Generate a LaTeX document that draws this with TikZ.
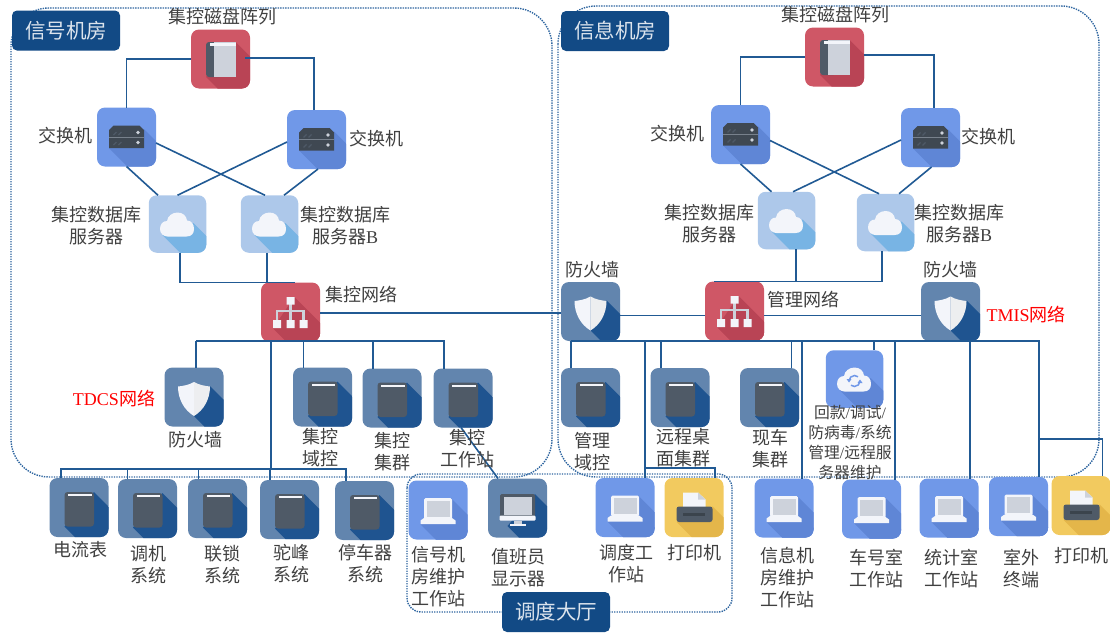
\documentclass[tikz,border=0pt]{standalone}
\usepackage{fontspec}
\setmainfont{Liberation Serif}
\newfontfamily\cjk{Noto Sans CJK SC}
\usetikzlibrary{calc}
\definecolor{cline}{HTML}{215A94}
\definecolor{cdot}{HTML}{2F66A0}
\definecolor{ctitle}{HTML}{124A85}
\definecolor{csteel}{HTML}{6285AE}
\definecolor{csteelS}{HTML}{1F5490}
\definecolor{cblue}{HTML}{7098E8}
\definecolor{cblueS}{HTML}{5F86D6}
\definecolor{cred}{HTML}{CF5766}
\definecolor{credS}{HTML}{B94455}
\definecolor{csky}{HTML}{ADC8EA}
\definecolor{cskyS}{HTML}{78B4E4}
\definecolor{cyel}{HTML}{F2CA5F}
\definecolor{cyelS}{HTML}{E4B64A}
\definecolor{cdark}{HTML}{4F5A67}
\definecolor{cpage}{HTML}{CDD2DB}
\definecolor{cwhite}{HTML}{F3F5FA}
\definecolor{ctext}{HTML}{404040}
\newcommand\lat[1]{{\rmfamily #1}}
\tikzset{
  tilebox/.style={rounded corners=8,inner sep=0,outer sep=0,draw=none},
  conn/.style={draw=cline,line width=1.6pt},
  group/.style={draw=cdot,line width=1.4pt,dash pattern=on 1.4pt off 1.1pt},
  titlebox/.style={fill=ctitle,rounded corners=5,inner sep=0,minimum width=108,minimum height=40,
    text=white!85!ctitle,font=\cjk\fontsize{20.5}{24}\selectfont},
  lbl/.style={inner sep=0,align=center,text=ctext,font=\cjk\fontsize{18}{22}\selectfont},
  smalllbl/.style={inner sep=0,align=center,text=ctext,font=\cjk\fontsize{15.8}{20}\selectfont},
  redlbl/.style={inner sep=0,text=red,font=\cjk\fontsize{18}{22}\selectfont},
}
\newcommand\longshadow[4]{\fill[tshadow] (#1,#2) -- ({#1+70},{#2+70}) -- ({#3+70},{#4+70}) -- (#3,#4) -- cycle;}
\newcommand\gServerS{\longshadow{17.5}{-8}{-17.5}{11}}
\newcommand\gServer{%
  \fill[cdark!80!black] (-17.5,-7) -- (-13,-11.5) -- (13,-11.5) -- (17.5,-7) -- (17.5,11) -- (-17.5,11) -- cycle;
  \draw[cwhite!25!cdark,line width=.7pt] (-17.5,0) -- (17.5,0);
  \fill[cpage] (11.5,-4.5) circle (1.8) (11.5,5.5) circle (1.8);
  \draw[cdark,line width=1.2pt] (-13,-2) -- (-10,-5) (-8,-2) -- (-5,-5) (-13,8) -- (-10,5) (-8,8) -- (-5,5);}
\newcommand\gBookS{\longshadow{15}{-17}{-14.5}{18}}
\newcommand\gBook{%
  \fill[cdark,rounded corners=3] (-14.5,-17) rectangle (2,18);
  \fill[cpage] (-7,-17) rectangle (15,18);
  \fill[cwhite] (-11,-16) rectangle (15,-13.5);}
\newcommand\gDarkS{\longshadow{15}{-15.5}{-14.5}{19}}
\newcommand\gDark{%
  \fill[cdark,rounded corners=3] (-14.5,-15.5) -- (15,-15.5) -- (15,19) -- (-14.5,19) -- cycle;
  \fill[cwhite] (-11,-13.5) rectangle (12.5,-11.2);}
\newcommand\gShieldS{\longshadow{16}{-11}{0}{19}}
\newcommand\gShield{%
  \fill[cwhite] (0,-15) .. controls (-5,-12) and (-11,-11) .. (-16,-10.5) .. controls (-16,2) and (-10,13) .. (0,19) -- cycle;
  \fill[white!90!cdark] (0,-15) .. controls (5,-12) and (11,-11) .. (16,-10.5) .. controls (16,2) and (10,13) .. (0,19) -- cycle;}
\newcommand\gNetS{\longshadow{4}{-15}{-17.5}{16}\longshadow{17}{8}{-17.5}{16}}
\newcommand\gNet{%
  \draw[cpage,line width=2.2pt] (0,-8) -- (0,8) (-13.5,8) -- (-13.5,-1) -- (13,-1) -- (13,8);
  \fill[cwhite] (-4,-15) rectangle (4,-7.5) (-17.5,8) rectangle (-9.5,16) (-4,8) rectangle (4,16) (9,8) rectangle (17,16);}
\newcommand\gCloudPath{%
  (-17.5,5) .. controls (-17.5,0) and (-14.5,-3) .. (-10.5,-3) .. controls (-10,-8) and (-5,-11.5) .. (0,-11.5)
  .. controls (5.5,-11.5) and (9,-8) .. (9.5,-3.5) .. controls (14,-3.5) and (16.5,0.5) .. (16.5,5)
  .. controls (16.5,9.5) and (14,12.5) .. (9,12.5) -- (-10,12.5) .. controls (-14,12.5) and (-17.5,9.5) .. (-17.5,5) -- cycle}
\newcommand\gCloudS{\longshadow{16}{-1}{-15}{11}}
\newcommand\gCloud{\fill[cwhite] \gCloudPath;}
\newcommand\gSync{\fill[cwhite] \gCloudPath;
  \draw[cblue,line width=1.5pt] (-5.5,2) arc[start angle=180,end angle=310,radius=5.5];
  \draw[cblue,line width=1.5pt] (5.5,2) arc[start angle=0,end angle=130,radius=5.5];
  \fill[cblue] (5.5,0.5) -- (8,4) -- (3,4) -- cycle (-5.5,3.5) -- (-8,0) -- (-3,0) -- cycle;}
\newcommand\gLapS{\longshadow{13}{-12}{-17.5}{14}\longshadow{17.5}{8}{-17.5}{14}}
\newcommand\gLap{%
  \fill[cwhite,rounded corners=1.5] (-14,-12) rectangle (14,9);
  \fill[cpage] (-11.5,-9.5) rectangle (11.5,6.5);
  \fill[cwhite] (-14,8) -- (14,8) -- (17.5,10.5) -- (17.5,14) -- (-17.5,14) -- (-17.5,10.5) -- cycle;}
\newcommand\gMonS{\longshadow{17.5}{-14}{-10}{18}}
\newcommand\gMon{%
  \fill[cdark,rounded corners=1.5] (-17.5,-14) rectangle (17.5,9);
  \fill[cpage] (-14,-11) rectangle (14,7);
  \fill[cwhite,rounded corners=1] (-18,7.5) rectangle (18,12.5);
  \fill[cpage] (-4,12.5) rectangle (4,16);
  \fill[cwhite] (-8,15.5) rectangle (8,18);}
\newcommand\gPrtS{\longshadow{18.5}{-1}{-17.5}{14.5}}
\newcommand\gPrt{%
  \fill[cwhite] (-11,-15) -- (4,-15) -- (11.5,-8) -- (11.5,2) -- (-11,2) -- cycle;
  \fill[cpage] (4,-15) -- (11.5,-8) -- (4,-8) -- cycle;
  \fill[cdark,rounded corners=2.5] (-17.5,-1) rectangle (18.5,14.5);
  \fill[cdark!75!black] (-11,5) rectangle (11,8);}
\newcommand\tile[8][59]{%
  \begin{scope}[shift={(#3,#4)}]
    \colorlet{tshadow}{#6}
    \node[tilebox,fill=#5,minimum width=#1,minimum height=#1] (#2) at (0,0) {};
    \begin{scope}
      \clip[rounded corners=8] ({-#1/2},{-#1/2}) rectangle ({#1/2},{#1/2});
      #7
    \end{scope}
    #8
  \end{scope}}
\begin{document}
\begin{tikzpicture}[x=1pt,y=-1pt]
\useasboundingbox (0,0) rectangle (1110,632);
% groups
\draw[group,rounded corners=38] (11,8) rectangle (552,477);
\draw[group,rounded corners=38] (558,6) rectangle (1099,477);
\draw[group,rounded corners=14] (407,474) rectangle (732,612);
\node[titlebox] (tSignal) at (66,30.5) {信号机房};
\node[titlebox] (tInfo) at (615,31) {信息机房};
\node[titlebox] (tHall) at (556,612) {调度大厅};
% tiles, left room
\tile{disk1}{220.5}{59}{cred}{credS}{\gBookS}{\gBook}
\tile{sw1}{126.5}{137}{cblue}{cblueS}{\gServerS}{\gServer}
\tile{sw2}{316.5}{139.5}{cblue}{cblueS}{\gServerS}{\gServer}
\tile[57.5]{db1}{177.5}{224}{csky}{cskyS}{\gCloudS}{\gCloud}
\tile[57.5]{db2}{269.5}{224}{csky}{cskyS}{\gCloudS}{\gCloud}
\tile{net1}{290.5}{312}{cred}{credS}{\gNetS}{\gNet}
\tile{fw1}{194}{397}{csteel}{csteelS}{\gShieldS}{\gShield}
\tile{ga}{322.5}{397}{csteel}{csteelS}{\gDarkS}{\gDark}
\tile{gb}{392}{398}{csteel}{csteelS}{\gDarkS}{\gDark}
\tile{gc}{463}{398}{csteel}{csteelS}{\gDarkS}{\gDark}
\tile{s1}{79}{507.5}{csteel}{csteelS}{\gDarkS}{\gDark}
\tile{s2}{147.5}{508.5}{csteel}{csteelS}{\gDarkS}{\gDark}
\tile{s3}{217.5}{508.5}{csteel}{csteelS}{\gDarkS}{\gDark}
\tile{s4}{289.5}{509.5}{csteel}{csteelS}{\gDarkS}{\gDark}
\tile{s5}{364.5}{510.5}{csteel}{csteelS}{\gDarkS}{\gDark}
\tile{h1}{438}{510}{cblue}{cblueS}{\gLapS}{\gLap}
\tile{h2}{517.5}{508}{csteel}{csteelS}{\gMonS}{\gMon}
% tiles, right room
\tile{disk2}{834.5}{57}{cred}{credS}{\gBookS}{\gBook}
\tile{sw3}{740.5}{134.5}{cblue}{cblueS}{\gServerS}{\gServer}
\tile{sw4}{930.5}{137.5}{cblue}{cblueS}{\gServerS}{\gServer}
\tile[57.5]{db3}{786.5}{220.5}{csky}{cskyS}{\gCloudS}{\gCloud}
\tile[57.5]{db4}{885.5}{222.5}{csky}{cskyS}{\gCloudS}{\gCloud}
\tile{net2}{734.5}{311}{cred}{credS}{\gNetS}{\gNet}
\tile{fw2}{590.5}{311.5}{csteel}{csteelS}{\gShieldS}{\gShield}
\tile{fw3}{950.5}{311.5}{csteel}{csteelS}{\gShieldS}{\gShield}
\tile{mg}{590.5}{397.5}{csteel}{csteelS}{\gDarkS}{\gDark}
\tile{rem}{680}{397.5}{csteel}{csteelS}{\gDarkS}{\gDark}
\tile{car}{769.5}{397.5}{csteel}{csteelS}{\gDarkS}{\gDark}
\tile[57.5]{sync}{854.5}{379}{cblue}{cblueS}{\gCloudS}{\gSync}
\tile{d1}{625}{507.5}{cblue}{cblueS}{\gLapS}{\gLap}
\tile{p1}{694}{507.5}{cyel}{cyelS}{\gPrtS}{\gPrt}
\tile{w1}{784}{508}{cblue}{cblueS}{\gLapS}{\gLap}
\tile{w2}{871.5}{509}{cblue}{cblueS}{\gLapS}{\gLap}
\tile{w3}{949}{508}{cblue}{cblueS}{\gLapS}{\gLap}
\tile{w4}{1018.5}{506.5}{cblue}{cblueS}{\gLapS}{\gLap}
\tile{p2}{1081}{505.5}{cyel}{cyelS}{\gPrtS}{\gPrt}
% bus points
\coordinate (busA) at (196,341);
\coordinate (busB) at (444,341);
\coordinate (busC) at (61,469);
\coordinate (busD) at (346,469);
\coordinate (busE) at (571,341);
\coordinate (busF) at (1039,341);
\coordinate (brA) at (645,468);
\coordinate (brB) at (1039,439);
% connectors, left room
\draw[conn] (sw1.north) |- (disk1.west);
\draw[conn] ($(sw2.north)+(-2.5,0)$) |- ($(disk1.east)+(-5,-1)$);
\draw[conn] (sw1.south) -- ($(db1.north)+(-19.5,0)$);
\draw[conn] ($(sw1.east)+(0,6)$) -- ($(db2.north)+(-4.5,0)$);
\draw[conn] ($(sw2.west)+(0,2.5)$) -- (db1.north);
\draw[conn] ($(sw2.south)+(1.5,0)$) -- ($(db2.north)+(14.5,0)$);
\draw[conn] ($(db1.south)+(2.5,0)$) |- ($(net1.north)+(4.5,0)$);
\draw[conn] ($(db2.south)+(-2.5,0)$) |- (net1.north);
\draw[conn] (busA) -- (busB);
\draw[conn] ($(fw1.north)+(2,0)$) |- (busA);
\draw[conn] ($(ga.north)+(-19,0)$) |- (busA);
\draw[conn] ($(gb.north)+(-19,0)$) |- (busA);
\draw[conn] ($(gc.north)+(-19,0)$) |- (busA);
\draw[conn] ($(net1.south)+(-19.5,0)$) -- ++(0,127);
\draw[conn] ($(s1.north)+(-18,0)$) |- (busD);
\draw[conn] ($(s2.north)+(-20,0)$) |- (busC);
\draw[conn] ($(s3.north)+(-19,0)$) |- (busC);
\draw[conn] ($(s4.north)+(-19.5,0)$) |- (busC);
\draw[conn] ($(s5.north)+(-18.5,0)$) |- (busC);
\draw[conn] ($(gc.south)+(-2,0)$) -- ($(h2.north)+(-19.5,0)$);
\draw[conn] ($(net1.east)+(0,1)$) -- ($(fw2.west)+(0,1.5)$);
% connectors, right room
\draw[conn] (sw3.north) |- (disk2.west);
\draw[conn] ($(sw4.north)+(3.5,0)$) |- ($(disk2.east)+(0,-2)$);
\draw[conn] (sw3.south) -- ($(db3.north)+(-15,0)$);
\draw[conn] ($(sw3.east)+(0,6)$) -- ($(db4.north)+(-6.5,0)$);
\draw[conn] ($(sw4.west)+(0,2.5)$) -- ($(db3.north)+(6.5,0)$);
\draw[conn] ($(sw4.south)+(1,0)$) -- ($(db4.north)+(13.5,0)$);
\draw[conn] ($(db3.south)+(9.2,0)$) |- ($(net2.north)+(-20.5,0)$);
\draw[conn] ($(db4.south)+(-3.8,0)$) |- ($(net2.north)+(-20.5,0)$);
\draw[conn] ($(fw2.east)+(0,4)$) -- ($(net2.west)+(0,4.5)$);
\draw[conn] ($(net2.east)+(0,4.5)$) -- ($(fw3.west)+(0,4)$);
\draw[conn] (busE) -- (busF);
\draw[conn] ($(mg.north)+(-19.5,0)$) |- (busE);
\draw[conn] ($(rem.north)+(-19,0)$) |- (busE);
\draw[conn] ($(car.north)+(22,0)$) |- (busE);
\draw[conn] ($(sync.north)+(19.5,0)$) |- (busE);
\draw[conn] ($(d1.north)+(20,0)$) |- (busE);
\draw[conn] ($(w1.north)+(18,0)$) |- (busE);
\draw[conn] ($(w2.north)+(23.5,0)$) |- (busE);
\draw[conn] ($(w3.north)+(21,0)$) |- (busE);
\draw[conn] ($(w4.north)+(20.5,0)$) |- (busE);
\draw[conn] ($(p1.north)+(21,0)$) |- (brA);
\draw[conn] ($(p2.north)+(21.5,0)$) |- (brB);
% labels, left room
\node[lbl] (l1) at (222,17) {集控磁盘阵列};
\node[lbl] (l2) at (65,136) {交换机};
\node[lbl] (l3) at (376,139) {交换机};
\node[lbl] (l4) at (96,226) {集控数据库\\服务器};
\node[lbl] (l5) at (345,226) {集控数据库\\服务器\lat{B}};
\node[lbl] (l6) at (361,295) {集控网络};
\node[redlbl] (l7) at (114,399) {\lat{TDCS}网络};
\node[lbl] (l8) at (195,440) {防火墙};
\node[lbl] (l9) at (320,448) {集控\\域控};
\node[lbl] (l10) at (392,452) {集控\\集群};
\node[lbl] (l11) at (467,449) {集控\\工作站};
\node[lbl] (l12) at (80,550) {电流表};
\node[lbl] (l13) at (148,565) {调机\\系统};
\node[lbl] (l14) at (222,565) {联锁\\系统};
\node[lbl] (l15) at (291,564) {驼峰\\系统};
\node[lbl] (l16) at (365,564) {停车器\\系统};
\node[lbl] (l17) at (438,577) {信号机\\房维护\\工作站};
\node[lbl] (l18) at (518,567.5) {值班员\\显示器};
% labels, right room
\node[lbl] (r1) at (835,15) {集控磁盘阵列};
\node[lbl] (r2) at (677,134) {交换机};
\node[lbl] (r3) at (988,137) {交换机};
\node[lbl] (r4) at (709,224) {集控数据库\\服务器};
\node[lbl] (r5) at (959,224) {集控数据库\\服务器\lat{B}};
\node[lbl] (r6) at (803,300) {管理网络};
\node[lbl] (r7) at (592,270) {防火墙};
\node[lbl] (r8) at (950,270) {防火墙};
\node[redlbl] (r9) at (1026,315) {\lat{TMIS}网络};
\node[lbl] (r10) at (592,452) {管理\\域控};
\node[lbl] (r11) at (683,448) {远程桌\\面集群};
\node[lbl] (r12) at (770,449) {现车\\集群};
\node[smalllbl] (r13) at (850,443) {回款\lat{/}调试\lat{/}\\防病毒\lat{/}系统\\管理\lat{/}远程服\\务器维护};
\node[lbl] (r14) at (626,564) {调度工\\作站};
\node[lbl] (r15) at (694.5,553) {打印机};
\node[lbl] (r16) at (787,578) {信息机\\房维护\\工作站};
\node[lbl] (r17) at (876,568.5) {车号室\\工作站};
\node[lbl] (r18) at (951,568.5) {统计室\\工作站};
\node[lbl] (r19) at (1021,569) {室外\\终端};
\node[lbl] (r20) at (1081,556) {打印机};
\end{tikzpicture}
\end{document}
